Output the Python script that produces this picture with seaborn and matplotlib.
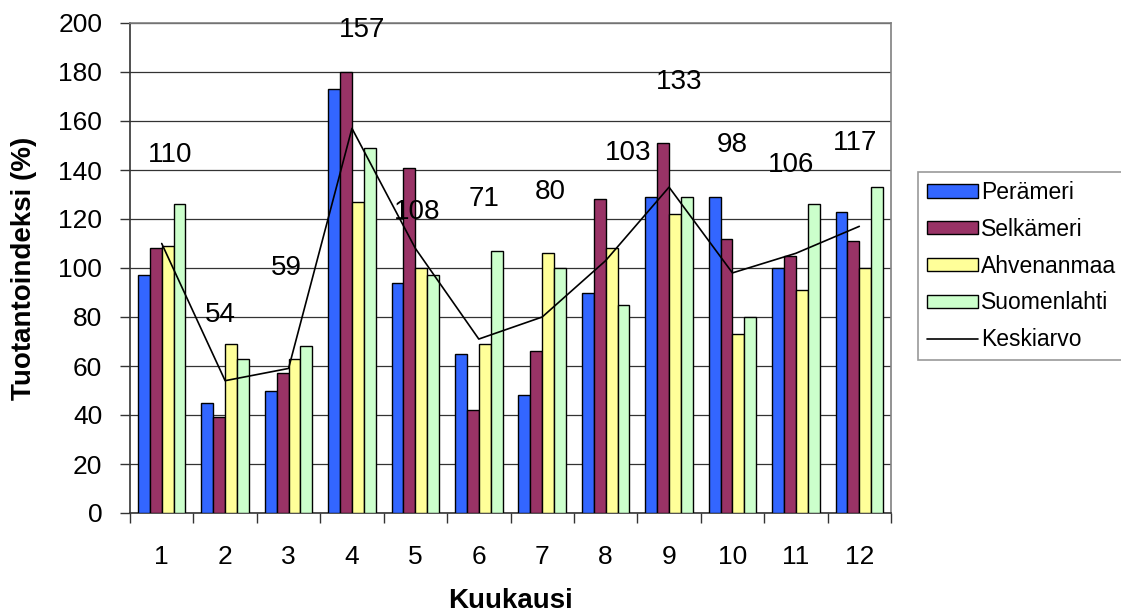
import numpy as np
import pandas as pd
import matplotlib
matplotlib.use("Agg")
import matplotlib.pyplot as plt
import seaborn as sns
from matplotlib.patches import Patch
from matplotlib.lines import Line2D

# kuukaudet ja alueet
kuukaudet = [str(m) for m in range(1, 13)]
alueet = ["Perämeri", "Selkämeri", "Ahvenanmaa", "Suomenlahti"]

perameri = [97, 45, 50, 173, 94, 65, 48, 90, 129, 129, 100, 123]
selkameri = [108, 39, 57, 180, 141, 42, 66, 128, 151, 112, 105, 111]
ahvenanmaa = [109, 69, 63, 127, 100, 69, 106, 108, 122, 73, 91, 100]
suomenlahti = [126, 63, 68, 149, 97, 107, 100, 85, 129, 80, 126, 133]
keskiarvo = [110, 54, 59, 157, 108, 71, 80, 103, 133, 98, 106, 117]

varit = ["#3366FF", "#993366", "#FFFF99", "#CCFFCC"]

# pitkä taulukko seabornia varten
df = pd.DataFrame({
    "Kuukausi": kuukaudet * 4,
    "Alue": np.repeat(alueet, 12),
    "Arvo": perameri + selkameri + ahvenanmaa + suomenlahti,
})

sns.set_style("white")
plt.rcParams["font.family"] = ["Liberation Sans", "DejaVu Sans"]
plt.rcParams["text.color"] = "black"
plt.rcParams["xtick.color"] = "black"
plt.rcParams["ytick.color"] = "black"
plt.rcParams["axes.labelcolor"] = "black"

W, H = 1121, 615
fig = plt.figure(figsize=(W / 100, H / 100), dpi=100)
ax = fig.add_axes([130 / W, 1 - 513 / H, 761 / W, 490 / H])

sns.barplot(data=df, x="Kuukausi", y="Arvo", hue="Alue", palette=varit,
            width=0.75, edgecolor="black", linewidth=1, saturation=1,
            legend=False, ax=ax, zorder=3)
sns.lineplot(x=np.arange(12), y=keskiarvo, color="black", linewidth=1.2,
             ax=ax, zorder=4)

# arvojen tekstit keskiarvoviivan yläpuolelle (siirrot luettu kuvasta)
dx = [0.13, -0.08, -0.04, 0.16, 0.03, 0.08, 0.13, 0.35, 0.16, 0.0, -0.08, -0.06]
dy = [36, 27, 41, 40, 15, 57, 51, 44, 43, 52, 36, 34]
for i, v in enumerate(keskiarvo):
    ax.text(i + dx[i], v + dy[i], str(v), ha="center", va="center",
            fontsize=20, color="black", zorder=5)

ax.set_xlim(-0.5, 11.5)
ax.set_ylim(0, 200)
ax.set_yticks(range(0, 201, 20))
ax.set_xticks(range(12))
ax.set_xticks(np.arange(-0.5, 12, 1), minor=True)
ax.set_xticklabels(kuukaudet)
ax.tick_params(axis="x", which="major", length=0, pad=23, labelsize=19,
               labelcolor="black")
ax.tick_params(axis="x", which="minor", length=7, width=1, color="#333333",
               direction="out", bottom=True)
ax.tick_params(axis="y", length=7, width=1, color="#333333", direction="out",
               left=True, pad=13, labelsize=19, labelcolor="black")
ax.yaxis.grid(True, color="#333333", linewidth=0.9, zorder=0)
ax.set_axisbelow(True)
ax.set_xlabel("")
ax.set_ylabel("")

for side in ["left", "bottom"]:
    ax.spines[side].set_color("#333333")
    ax.spines[side].set_linewidth(1.2)
for side in ["top", "right"]:
    ax.spines[side].set_color("#808080")
    ax.spines[side].set_linewidth(1.2)

fig.text(24 / W, 1 - 268 / H, "Tuotantoindeksi (%)", rotation=90,
         ha="center", va="center", fontsize=20, fontweight="bold")
fig.text(510.5 / W, 1 - 601 / H, "Kuukausi", ha="center", va="center",
         fontsize=20, fontweight="bold")

# selite
handles = [Patch(facecolor=c, edgecolor="black", linewidth=1) for c in varit]
handles.append(Line2D([0], [0], color="black", linewidth=1.2))
leg = fig.legend(handles, alueet + ["Keskiarvo"], loc="upper left",
                 bbox_to_anchor=(918 / W, 1 - 172 / H), fontsize=16.5,
                 frameon=True, fancybox=False, shadow=False,
                 handlelength=2.2, handleheight=0.52, handletextpad=0.15,
                 labelspacing=0.6, borderpad=0.4, borderaxespad=0)
leg.get_frame().set_edgecolor("#808080")
leg.get_frame().set_linewidth(1.2)
for t in leg.get_texts():
    t.set_color("black")

fig.savefig("out.png", dpi=100)
